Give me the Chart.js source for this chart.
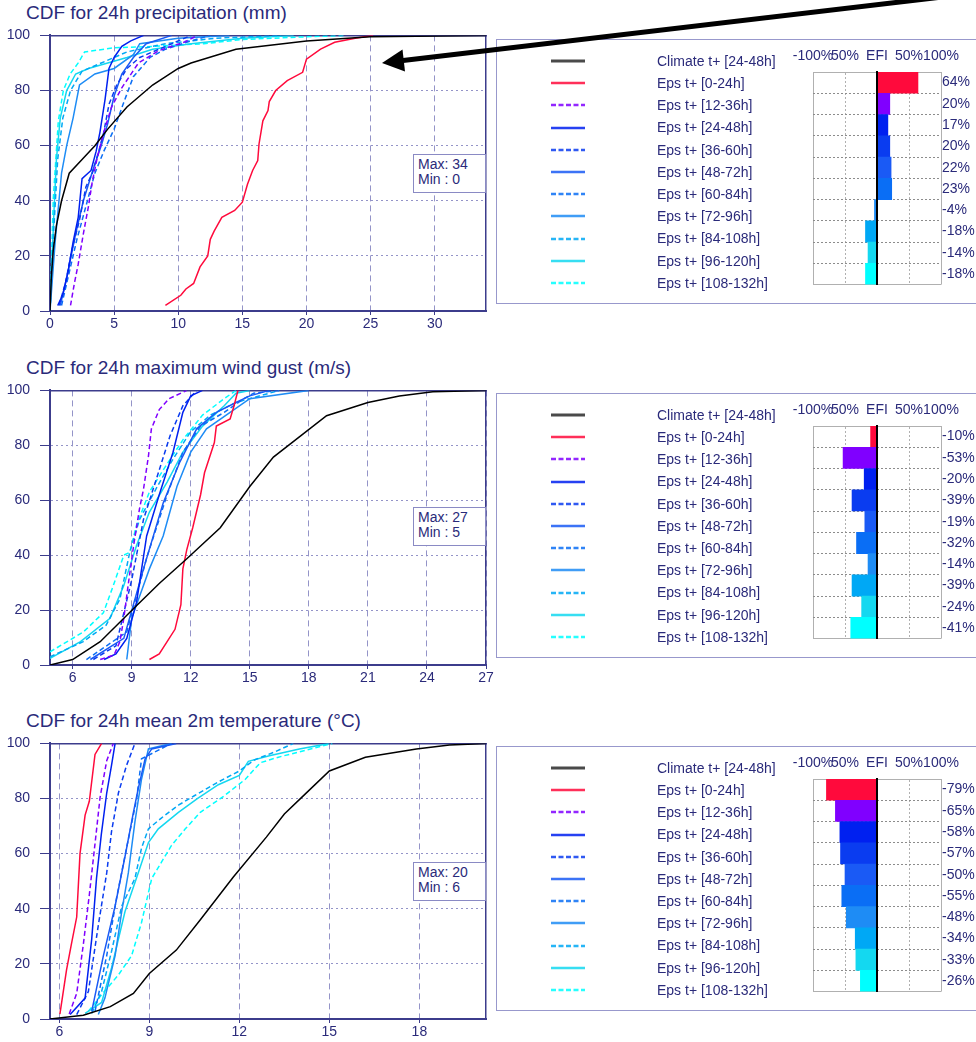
<!DOCTYPE html>
<html>
<head>
<meta charset="utf-8">
<script src="https://cdn.jsdelivr.net/npm/chart.js@4.4.1/dist/chart.umd.min.js"></script>
<style>
  html, body { margin: 0; padding: 0; background: #fff; overflow: hidden; }
  body { width: 976px; height: 1042px; position: relative; font-family: "Liberation Sans", Arial, sans-serif; color: #2a2a7a; }
  .abs { position: absolute; }
  .title { font-size: 19px; line-height: 22px; white-space: nowrap; }
  .stats { background: #fff; border: 1px solid #8a8ac4; box-sizing: border-box; font-size: 14px; line-height: 15px; padding: 2px 0 0 4px; white-space: pre; z-index: 3; }
  .legendBox { border: 1.5px solid #9898cc; box-sizing: border-box; }
  .legendText { font-size: 14px; white-space: nowrap; }
</style>
</head>
<body>
<script>
const seriesLabels = ['Climate t+ [24-48h]', 'Eps t+ [0-24h]', 'Eps t+ [12-36h]', 'Eps t+ [24-48h]', 'Eps t+ [36-60h]',
  'Eps t+ [48-72h]', 'Eps t+ [60-84h]', 'Eps t+ [72-96h]', 'Eps t+ [84-108h]', 'Eps t+ [96-120h]', 'Eps t+ [108-132h]'];
const seriesColors = ['#000000', '#ff0a3c', '#8000ff', '#0020f0', '#0a3cf0', '#1a5af5', '#0a6ef5', '#1e8cf5', '#00a8f5', '#14d8f0', '#00ffff'];
const seriesDashed = [false, false, true, false, true, false, true, false, true, false, true];

const efiTickValues = [-100, -50, 0, 50, 100];
const efiTickLabels = ['-100%', '50%', 'EFI', '50%', '100%'];

// CDF curves as [value, percent] points, same order as seriesLabels
const precipCurves = [
  [[0,0],[0.1,12],[0.25,22],[0.5,31],[0.9,40],[1.5,50],[2.5,55],[3.5,60],[4.5,66],[6,74],[8,82],[10,88],[11,90],[14.5,95],[20,98],[25,99.5],[34,100]],
  [[9,2],[10.2,5.7],[10.6,8],[11.2,10],[11.7,16],[12.3,20],[12.5,26],[12.8,29],[13.4,34],[14.4,36.5],[15,39.5],[15.4,46],[15.8,51],[16.2,54.6],[16.3,60.6],[16.6,69],[17,72.7],[17.1,76],[17.6,80],[18.5,83.6],[19.7,86.6],[20,91.4],[21.1,95],[22.2,97.5],[23.8,99],[25.2,100]],
  [[1.6,2],[1.9,10],[2.2,17],[2.6,28],[3,38],[3.3,47],[3.7,56],[4.2,65],[4.8,74],[5.6,81],[6.9,90],[8.5,94.5],[10.5,97.6],[11.5,100]],
  [[0.6,2],[1,6],[1.4,14],[1.8,25],[2.2,34],[2.5,48],[3.2,51],[3.6,58],[3.9,65],[4.3,77],[4.6,88],[5,92],[5.6,96],[6.3,98],[7.3,100]],
  [[0.7,2],[1.2,10],[1.7,22],[2.3,33],[2.8,45],[3.3,50],[3.8,58],[4.2,65],[4.6,75],[5.2,82],[6,88],[7,92],[8.5,95],[10,98],[11,100]],
  [[0.8,2],[1.3,12],[2,28],[2.6,40],[3.4,52],[4,60],[4.5,68],[5,78],[5.6,86],[6.5,92],[7.5,97],[9.5,100]],
  [[0.9,2],[1.4,12],[2.1,26],[2.8,38],[3.5,50],[4.2,58],[5,66],[5.7,75],[6.5,85],[7.8,92],[9,95],[11,98],[12.5,100]],
  [[0,0],[0.4,25],[0.9,50],[1.3,60],[1.8,70],[2.3,82],[3.5,86],[5,88],[6.5,93],[7,97],[10,99],[14,100]],
  [[0,0],[0.3,30],[0.6,55],[1,70],[1.6,80],[2.5,87],[4,90],[6,94],[9,97],[13,99],[18,100]],
  [[0,0],[0.3,35],[0.5,55],[0.8,70],[1.3,80],[2,86],[3,88],[4.5,90],[6,92],[8,95],[11,97],[15,99],[19,100]],
  [[0,0],[0.26,41],[0.65,69],[1.04,80],[1.57,86],[2.2,90],[2.7,94],[5,95.5],[8,96],[12,97],[15,98.5],[20,99.5],[23,100]]
];
const precipEfi = [64, 20, 17, 20, 22, 23, -4, -18, -14, -18];
const precipTicks = [0, 5, 10, 15, 20, 25, 30];
const precipRange = [0, 34];
const precipMaxMin = [34, 0];

const gustCurves = [
  [[4.85,0],[6,2],[7.4,8.5],[9.1,20.6],[10.4,29.7],[11.8,38.7],[13.5,50],[15,65],[16.2,75.7],[17.6,83.5],[18.9,90.8],[21,95.6],[22.6,98],[24.3,99.5],[27,100]],
  [[9.9,2],[10.4,4],[10.8,8.5],[11.2,13],[11.5,22],[11.6,35],[11.8,42],[12.1,50],[12.5,62],[12.7,70],[13.2,81],[13.3,87],[14,89.6],[14.2,94.4],[14.4,100]],
  [[7.4,2],[8.1,3.6],[8.4,8.5],[8.6,17],[8.8,28],[9.1,43.6],[9.4,57],[9.6,64],[9.85,76],[10,86],[10.4,93],[10.9,97],[11.8,100]],
  [[7.6,2],[8.2,4],[8.75,9.7],[9.25,23],[9.76,47],[10.4,62],[11.1,77.5],[11.6,92],[12,98],[12.6,100]],
  [[7.05,2],[8.2,7],[9,31],[9.6,53],[10.4,71],[10.95,83.5],[11.6,94.4],[12.3,100]],
  [[6.9,2],[8.6,9.7],[9.6,35],[10.6,59],[11.45,74],[12.3,86],[13.3,92],[14.3,95.6],[15,98],[16,100]],
  [[6.7,2],[8.75,12],[9.76,39],[10.8,62],[11.6,77.5],[12.5,87],[13.7,92],[14.7,97],[15.2,99],[16.5,100]],
  [[8.75,2],[9,17],[9.9,35],[10.6,47],[11.3,65],[12,77.5],[12.8,86],[14,92],[15,97],[18,100]],
  [[4.85,3],[6.54,8.5],[7.7,14.5],[8.4,24],[8.9,41],[9.4,53],[10.3,65],[11.1,75],[12,85],[13,91],[14.3,95.6],[16.5,100]],
  [[4.85,2.4],[6.4,8.5],[7.9,17],[8.6,29],[9.25,43.6],[9.9,55.7],[10.8,66.6],[11.6,77.5],[12.6,87],[13.7,94.4],[14.3,99],[15,100]],
  [[4.85,4.8],[6.54,12],[7.56,19],[8.07,29],[8.6,40],[8.9,41],[9.25,51],[9.9,63],[10.6,71],[11.6,82],[12.6,91],[13.7,97],[14.3,100]]
];
const gustEfi = [-10, -53, -20, -39, -19, -32, -14, -39, -24, -41];
const gustTicks = [6, 9, 12, 15, 18, 21, 24, 27];
const gustRange = [4.85, 27];
const gustMaxMin = [27, 5];

const tempCurves = [
  [[5.69,0],[6.8,1.4],[7.7,4.5],[8.47,9.3],[9,16.5],[9.9,25],[10.7,36],[11.8,51.5],[12.9,66],[13.5,74.4],[14.2,81.7],[15,90],[16.2,95],[17.9,98],[19,99.4],[20.22,100]],
  [[6.02,1.8],[6.24,17.7],[6.4,27],[6.58,37],[6.69,60],[6.86,74],[7,79],[7.19,96],[7.41,100]],
  [[6.33,1.8],[6.58,9.3],[6.8,27],[7,45],[7.19,63.6],[7.36,80.5],[7.58,93.7],[7.8,100]],
  [[6.36,1.6],[6.86,7.6],[7.08,29],[7.24,51],[7.4,67],[7.58,82],[7.74,92],[7.86,100]],
  [[6.58,1.6],[6.97,10],[7.3,34],[7.58,53],[7.74,68],[7.97,82],[8.24,92],[8.52,100]],
  [[7.08,2.8],[7.47,23],[7.86,41],[8.2,59.5],[8.47,75],[8.63,83.6],[8.86,94.4],[9.08,98],[9.9,100]],
  [[7.19,2.8],[7.58,23],[7.91,44],[8.24,62],[8.58,80],[8.74,94.4],[9.74,100]],
  [[7.3,1.6],[7.52,7.6],[7.86,23],[8.08,39],[8.3,53],[8.52,71.5],[8.74,87],[8.97,98],[9.74,100]],
  [[7.08,2],[7.41,10],[7.74,24.5],[8.08,41],[8.52,51],[8.74,62],[8.97,69],[9.41,73],[9.97,77.6],[10.5,81],[11.3,86],[12,90],[12.5,94],[13.2,97],[13.8,100]],
  [[6.86,2],[7.41,6],[7.74,18.5],[8.19,39],[8.63,53],[8.97,64],[9.3,69],[9.97,75],[10.6,80],[11.3,85],[12,88.4],[12.3,93.5],[13,95.5],[14,98],[15,100]],
  [[6.97,2.8],[7.41,8.8],[7.97,16],[8.41,23],[8.74,35],[9.08,51],[9.41,57],[9.74,63],[10.2,69],[10.7,75],[11.5,81],[12.2,87],[12.7,93],[13.3,95],[14.2,97.5],[15.1,100]]
];
const tempEfi = [-79, -65, -58, -57, -50, -55, -48, -34, -33, -26];
const tempTicks = [6, 9, 12, 15, 18];
const tempRange = [5.69, 20.22];
const tempMaxMin = [20, 6];

// page layout of the three rows
const panels = [
  { title: 'CDF for 24h precipitation (mm)', curves: precipCurves, efi: precipEfi, ticks: precipTicks,
    range: precipRange, maxMin: precipMaxMin, plotTop: 35, plotBottom: 311, efiTop: 72, statsTop: 154 },
  { title: 'CDF for 24h maximum wind gust (m/s)', curves: gustCurves, efi: gustEfi, ticks: gustTicks,
    range: gustRange, maxMin: gustMaxMin, plotTop: 390, plotBottom: 665, efiTop: 426, statsTop: 507 },
  { title: 'CDF for 24h mean 2m temperature (°C)', curves: tempCurves, efi: tempEfi, ticks: tempTicks,
    range: tempRange, maxMin: tempMaxMin, plotTop: 743, plotBottom: 1019, efiTop: 779, statsTop: 862 }
];

const textColor = '#2a2a7a';
const axisColor = '#3c3c8c';
const gridColor = '#9494c8';
const boxGray = '#b0b0b0';
const rowH = 22.2;

Chart.defaults.font.family = '"Liberation Sans", Arial, sans-serif';
Chart.defaults.font.size = 14;
Chart.defaults.color = textColor;

function el(tag, cls, css) {
  const e = document.createElement(tag);
  if (cls) e.className = cls;
  Object.assign(e.style, css || {});
  document.body.appendChild(e);
  return e;
}

function makeCanvas(left, top, w, h) {
  const c = el('canvas', 'abs', { left: left + 'px', top: top + 'px', width: w + 'px', height: h + 'px' });
  c.width = w;
  c.height = h;
  return c;
}

panels.forEach(p => {
  const title = el('div', 'abs title', { left: '26px', top: (p.plotTop - 33) + 'px' });
  title.textContent = p.title;

  // CDF chart (chart area starts 18px below the canvas top: padding + label overflow)
  const plotH = p.plotBottom - p.plotTop;
  const cdf = makeCanvas(0, p.plotTop - 18, 498, plotH + 48);
  new Chart(cdf, {
    type: 'scatter',
    data: {
      datasets: p.curves.map((pts, i) => ({
        label: seriesLabels[i],
        data: pts.map(([x, y]) => ({ x, y })),
        showLine: true,
        borderColor: seriesColors[i],
        borderWidth: 1.5,
        borderDash: seriesDashed[i] ? [5, 3] : [],
        pointRadius: 0,
        fill: false
      }))
    },
    options: {
      responsive: false,
      animation: false,
      layout: { padding: { top: 10, right: 12 } },
      plugins: { legend: { display: false }, tooltip: { enabled: false } },
      scales: {
        x: {
          type: 'linear', min: p.range[0], max: p.range[1],
          afterBuildTicks: s => { s.ticks = p.ticks.map(v => ({ value: v })); },
          afterFit: s => { s.height = 30; },
          ticks: { color: textColor, padding: 1, maxRotation: 0, autoSkip: false },
          grid: { color: gridColor, tickColor: axisColor, tickLength: 4, tickBorderDash: [] },
          border: { color: axisColor, width: 2, dash: ctx => ctx.type === 'tick' ? [6, 4] : [] }
        },
        y: {
          min: 0, max: 100,
          ticks: { stepSize: 20, padding: 10, color: textColor },
          afterFit: s => { s.width = 50; },
          grid: { color: gridColor, tickColor: axisColor, tickLength: 10, tickBorderDash: [] },
          border: { color: axisColor, width: 2, dash: ctx => ctx.type === 'tick' ? [2, 3] : [] }
        },
        xTop: {
          type: 'linear', position: 'top',
          ticks: { display: false }, grid: { display: false, drawTicks: false },
          border: { color: axisColor, width: 1.5 },
          afterFit: s => { s.height = 0; }
        },
        yRight: {
          type: 'linear', position: 'right',
          ticks: { display: false }, grid: { display: false, drawTicks: false },
          border: { color: axisColor, width: 1.5 },
          afterFit: s => { s.width = 0; }
        }
      }
    }
  });

  const stats = el('div', 'abs stats', { left: '413px', top: p.statsTop + 'px', width: '73px', height: '39px' });
  stats.textContent = 'Max: ' + p.maxMin[0] + '\nMin : ' + p.maxMin[1];

  // legend box
  el('div', 'abs legendBox', { left: '496px', top: (p.efiTop - 33) + 'px', width: '500px', height: '265px' });
  seriesLabels.forEach((lab, i) => {
    const cy = p.efiTop + (i - 0.5) * rowH;
    const svg = document.createElementNS('http://www.w3.org/2000/svg', 'svg');
    svg.setAttribute('width', '40');
    svg.setAttribute('height', '8');
    svg.style.position = 'absolute';
    svg.style.left = '549px';
    svg.style.top = (cy - 4) + 'px';
    const ln = document.createElementNS('http://www.w3.org/2000/svg', 'line');
    ln.setAttribute('x1', '2'); ln.setAttribute('x2', '36');
    ln.setAttribute('y1', '4'); ln.setAttribute('y2', '4');
    ln.setAttribute('stroke', i === 0 ? '#4a4a4a' : seriesColors[i]);
    ln.setAttribute('stroke-width', i === 0 ? '3' : '2.5');
    ln.setAttribute('stroke-opacity', i === 0 ? '1' : '0.85');
    if (seriesDashed[i]) ln.setAttribute('stroke-dasharray', '5 2.5');
    svg.appendChild(ln);
    document.body.appendChild(svg);
    const t = el('div', 'abs legendText', { left: '657px', top: (cy - rowH / 2) + 'px', height: rowH + 'px', lineHeight: rowH + 'px' });
    t.textContent = lab;
  });

  // EFI bars
  const efiCanvas = makeCanvas(780, p.efiTop - 24, 206, 10 * rowH + 24);
  new Chart(efiCanvas, {
    type: 'bar',
    data: {
      labels: seriesLabels.slice(1),
      datasets: [{
        data: p.efi,
        backgroundColor: seriesColors.slice(1),
        borderWidth: 0,
        barPercentage: 1,
        categoryPercentage: 1
      }]
    },
    options: {
      indexAxis: 'y',
      responsive: false,
      animation: false,
      layout: { padding: { left: 33 } },
      plugins: { legend: { display: false }, tooltip: { enabled: false } },
      scales: {
        x: {
          position: 'top', min: -100, max: 100,
          afterBuildTicks: s => { s.ticks = efiTickValues.map(v => ({ value: v })); },
          afterFit: s => { s.height = 24; },
          ticks: { callback: (v, i) => efiTickLabels[i], autoSkip: false, maxRotation: 0, padding: 7, color: textColor },
          grid: { drawTicks: false, color: ctx => (ctx.tick && ctx.tick.value === 0) ? 'rgba(0,0,0,0)' : boxGray },
          border: { color: boxGray, dash: ctx => (ctx.type === 'tick' && Math.abs(ctx.tick.value) === 50) ? [2, 2] : [] }
        },
        y: {
          position: { x: 0 },
          ticks: { display: false },
          grid: { offset: true, drawTicks: false, color: ctx => ctx.type === 'tick' && ctx.index > 0 ? '#8c8c8c' : boxGray },
          border: { color: '#000', width: 2, z: 1, dash: ctx => (ctx.type === 'tick' && ctx.index > 0) ? [2, 2] : [] }
        },
        yr: {
          type: 'category', position: 'right',
          labels: p.efi.map(v => v + '%'),
          offset: true,
          grid: { display: false, drawTicks: false },
          border: { display: false },
          ticks: { color: textColor, padding: 1, autoSkip: false },
          afterFit: s => { s.width = 45; }
        }
      }
    }
  });
});

// pointer arrow at the top
const arrow = document.createElementNS('http://www.w3.org/2000/svg', 'svg');
arrow.setAttribute('width', '976');
arrow.setAttribute('height', '90');
Object.assign(arrow.style, { position: 'absolute', left: '0px', top: '0px', zIndex: 10 });
arrow.innerHTML = '<line x1="403" y1="60.5" x2="990" y2="-8.6" stroke="#000" stroke-width="5"/>' +
  '<polygon points="382,63 402.5,49.5 405,71.5" fill="#000"/>';
document.body.appendChild(arrow);
</script>
</body>
</html>
